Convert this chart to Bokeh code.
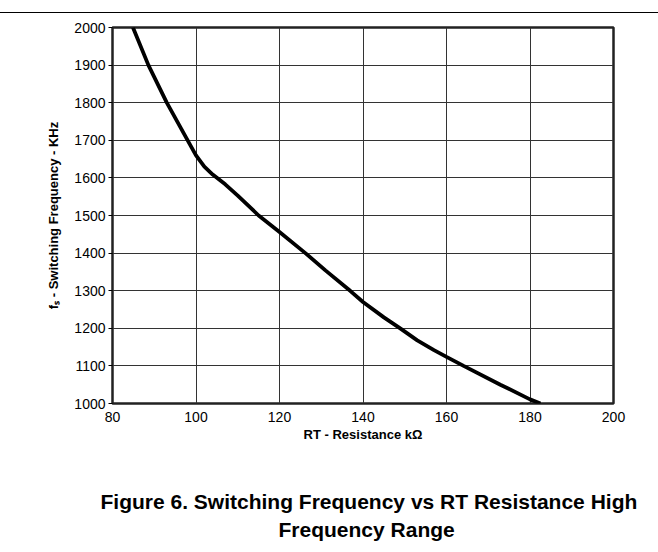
from bokeh.plotting import figure
from bokeh.models import Range1d, FixedTicker, Title, Div
from bokeh.layouts import column
from bokeh.embed import file_html
from bokeh.resources import INLINE

# data
rt_kohm = [84.9, 88.6, 93.0, 98.0, 100, 102, 104, 107, 110, 115, 120, 126.2, 131, 137, 140, 145, 149, 153, 157, 160, 164.1, 172.9, 180, 182.5]
fs_khz = [2000, 1900, 1800, 1700, 1660, 1630, 1609, 1583, 1553, 1500, 1456, 1400, 1354, 1299, 1270, 1229, 1199, 1168, 1142, 1124, 1100, 1050, 1011, 1000]
x_ticks = [80, 100, 120, 140, 160, 180, 200]
y_ticks = [1000, 1100, 1200, 1300, 1400, 1500, 1600, 1700, 1800, 1900, 2000]
caption = ["Figure 6. Switching Frequency vs RT Resistance High", "Frequency Range"]

FONT = "Liberation Sans"
W = 658

# rule at the top of the page
rule = Div(text="", width=W, height=13, margin=(0, 0, 0, 0),
           styles={"border-bottom": "1.5px solid black", "box-sizing": "border-box"})

p = figure(width=W, height=531, output_backend="svg", toolbar_location=None,
           x_range=Range1d(80, 200), y_range=Range1d(1000, 2000),
           min_border_left=112, min_border_right=45, min_border_top=14, min_border_bottom=141,
           margin=(0, 0, 0, 0))

p.line(rt_kohm, fs_khz, line_color="black", line_width=3.8)

p.outline_line_color = "#222222"
p.outline_line_width = 2.5
p.background_fill_color = "white"
p.border_fill_color = "white"

p.xgrid.ticker = FixedTicker(ticks=x_ticks)
p.ygrid.ticker = FixedTicker(ticks=y_ticks)
for g in (p.xgrid, p.ygrid):
    g.grid_line_color = "#333333"
    g.grid_line_width = 1
    g.grid_line_alpha = 1

p.xaxis.ticker = FixedTicker(ticks=x_ticks)
p.yaxis.ticker = FixedTicker(ticks=y_ticks)
for ax in (p.xaxis[0], p.yaxis[0]):
    ax.axis_line_color = None
    ax.major_tick_in = 0
    ax.minor_tick_line_color = None
    ax.major_label_text_font = FONT
    ax.major_label_text_font_size = "14px"
    ax.major_label_text_color = "black"
    ax.axis_label_text_font = FONT
    ax.axis_label_text_font_size = "13px"
    ax.axis_label_text_font_style = "bold"
    ax.axis_label_text_color = "black"
p.xaxis.major_tick_out = 0
p.xaxis.major_label_standoff = 8
p.xaxis.axis_label = "RT - Resistance kΩ"
p.xaxis.axis_label_standoff = 2
p.yaxis.major_tick_out = 4
p.yaxis.major_tick_line_color = "black"
p.yaxis.major_label_standoff = 3
p.yaxis.axis_label = "fₛ - Switching Frequency - KHz"
p.yaxis.axis_label_standoff = 10

# caption: spacer + two title lines below the axis
cap_style = dict(text_font=FONT, text_font_size="21px", text_font_style="bold",
                 text_color="black", text_line_height=1.0)
p.add_layout(Title(text=" ", align="left", standoff=18, **cap_style), "below")
p.add_layout(Title(text=caption[0], align="left", offset=-12, standoff=0, **cap_style), "below")
p.add_layout(Title(text=caption[1], align="left", offset=166, standoff=7, **cap_style), "below")

layout = column(rule, p, spacing=0)
open("out.html", "w").write(file_html(layout, INLINE))
